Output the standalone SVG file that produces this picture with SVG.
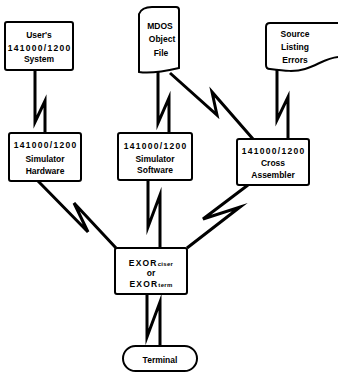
<svg xmlns="http://www.w3.org/2000/svg" width="338" height="373" viewBox="0 0 338 373">
<style>
.box{fill:#fff;stroke:#000;stroke-width:2}
.t{font-family:"Liberation Sans",Arial,sans-serif;font-weight:bold;font-size:8.5px;fill:#000;text-anchor:middle}
.n{letter-spacing:1.3px}
.c{fill:none;stroke:#000;stroke-width:3;stroke-linejoin:miter;stroke-miterlimit:6}
</style>
<rect width="338" height="373" fill="#fff"/>
<g id="connectors">
<polyline class="c" points="35,70 35,122 45,101 45,133"/>
<polyline class="c" points="158,72 158,123 169,98 169,133"/>
<polyline class="c" points="170,73 217,115 212,92 253,139"/>
<polyline class="c" points="277,69 277,120 288,97 288,139"/>
<polyline class="c" points="38,181 88,232 74,203 116,248"/>
<polyline class="c" points="148,180 148,227 160,195 160,248"/>
<polyline class="c" points="248,185 203,219 240,207 187,248"/>
<polyline class="c" points="147,294 147,337 160,302 160,346"/>
</g>
<g id="users-system">
<rect class="box" x="5" y="22" width="68" height="48" rx="2"/>
<text class="t" x="39" y="37.5">User's</text>
<text class="t n" x="39.6" y="51">141000/1200</text>
<text class="t" x="39" y="62">System</text>
</g>
<g id="mdos-object-file">
<path class="box" d="M139,72 L139,14 C141,9 146,7 152,7 L176,7 Q179,7 179,10 L179,68 C166,71 152,74 139,72 Z"/>
<text class="t" x="160" y="29">MDOS</text>
<text class="t" x="162" y="42">Object</text>
<text class="t" x="161" y="56">File</text>
</g>
<g id="source-listing-errors">
<path class="box" d="M338,23 L270,23 Q266,23 266,27 L266,65 Q266,69 270,69 C285,71 295,72 305,69 C318,65 326,58 338,57"/>
<text class="t" x="295" y="37">Source</text>
<text class="t" x="295" y="50">Listing</text>
<text class="t" x="295" y="63">Errors</text>
</g>
<g id="simulator-hardware">
<rect class="box" x="9" y="133" width="72" height="48" rx="2"/>
<text class="t n" x="45.6" y="147.5">141000/1200</text>
<text class="t" x="45" y="162">Simulator</text>
<text class="t" x="45" y="173.5">Hardware</text>
</g>
<g id="simulator-software">
<rect class="box" x="118" y="133" width="74" height="47" rx="2"/>
<text class="t n" x="155.6" y="149">141000/1200</text>
<text class="t" x="155" y="161.5">Simulator</text>
<text class="t" x="155" y="173">Software</text>
</g>
<g id="cross-assembler">
<rect class="box" x="237" y="139" width="72" height="46" rx="2"/>
<text class="t n" x="273.6" y="154">141000/1200</text>
<text class="t" x="273" y="166">Cross</text>
<text class="t" x="273" y="178">Assembler</text>
</g>
<g id="exorciser">
<rect class="box" x="115" y="248" width="72" height="46" rx="2"/>
<text class="t" x="151" y="266" style="letter-spacing:1.2px">EXOR<tspan font-size="6" style="letter-spacing:0.3px">ciser</tspan></text>
<text class="t" x="151" y="275.5" font-size="6">or</text>
<text class="t" x="151" y="286.5" style="letter-spacing:1.2px">EXOR<tspan font-size="6" style="letter-spacing:0.3px">term</tspan></text>
</g>
<g id="terminal">
<rect class="box" x="123" y="346" width="74" height="25" rx="12.5"/>
<text class="t" x="160" y="362.5">Terminal</text>
</g>
</svg>
